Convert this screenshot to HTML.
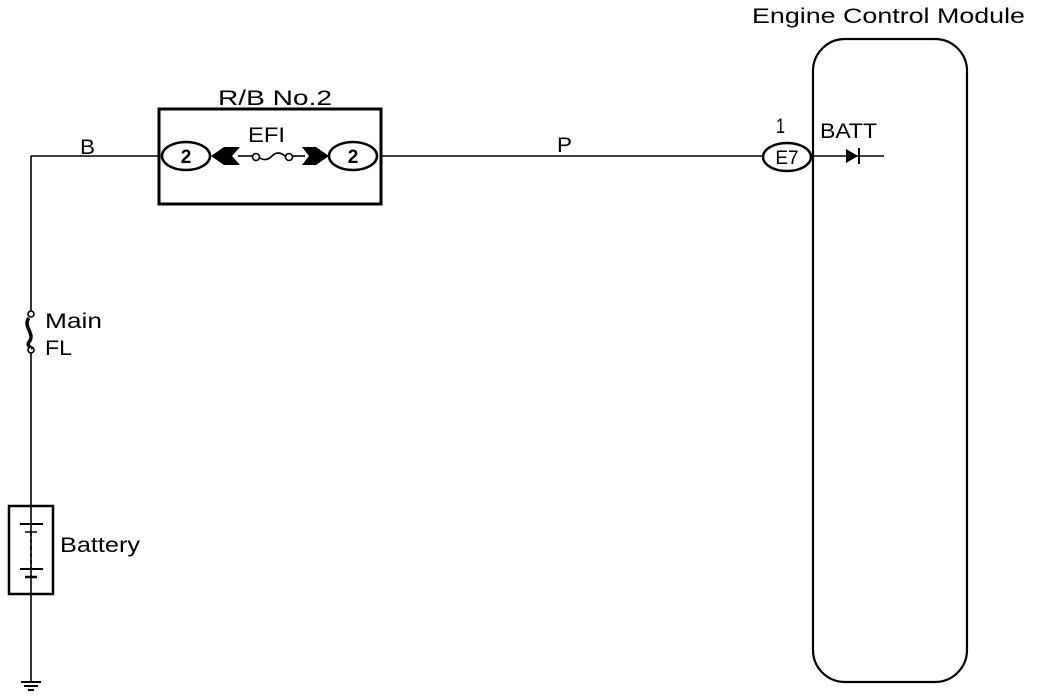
<!DOCTYPE html>
<html><head><meta charset="utf-8"><style>
html,body{margin:0;padding:0;background:#fff;}
svg{display:block;}
text{font-family:"Liberation Sans",Arial,sans-serif;fill:#000;}
</style></head><body>
<svg width="1040" height="698" viewBox="0 0 1040 698" xmlns="http://www.w3.org/2000/svg">
<g stroke="#000" fill="none" stroke-width="1.6">
  <line x1="31" y1="156" x2="31" y2="312"/>
  <line x1="31" y1="352" x2="31" y2="682"/>
  <line x1="31" y1="156" x2="160" y2="156"/>
  <rect x="159" y="109" width="222" height="95" stroke-width="3"/>
  <ellipse cx="186" cy="156" rx="24" ry="14" stroke-width="2.5"/>
  <ellipse cx="353" cy="156" rx="24" ry="14" stroke-width="2.5"/>
  <line x1="238" y1="156" x2="252" y2="156"/>
  <line x1="293" y1="156" x2="305" y2="156"/>
  <circle cx="256" cy="157" r="3.5" fill="#fff"/>
  <circle cx="289" cy="157" r="3.5" fill="#fff"/>
  <path d="M260 158 Q266 162 272 156 Q278 150 285 156"/>
  <line x1="381" y1="156" x2="763" y2="156"/>
  <ellipse cx="787" cy="157" rx="24" ry="14" stroke-width="2.5"/>
  <rect x="813" y="39" width="154" height="643" rx="32" ry="32" stroke-width="2.2"/>
  <line x1="813" y1="156" x2="884" y2="156"/>
  <line x1="859" y1="148" x2="859" y2="164" stroke-width="2"/>
  <circle cx="31" cy="314" r="3" fill="#fff"/>
  <circle cx="31" cy="350" r="3" fill="#fff"/>
  <rect x="9" y="506" width="44" height="88" stroke-width="2.5"/>
  <line x1="20" y1="524" x2="43" y2="524" stroke-width="2"/>
  <line x1="25" y1="532" x2="37" y2="532" stroke-width="1.5"/>
  <line x1="31" y1="532" x2="31" y2="568" stroke-dasharray="4,3"/>
  <line x1="20" y1="569" x2="43" y2="569" stroke-width="2"/>
  <line x1="25" y1="577" x2="37" y2="577" stroke-width="2.5"/>
  <line x1="21" y1="682" x2="41" y2="682" stroke-width="2"/>
  <line x1="24" y1="686" x2="38" y2="686" stroke-width="2"/>
  <line x1="28" y1="690" x2="34" y2="690" stroke-width="2"/>
</g>
<path d="M211 156 L224 147 L240 147 L232 156 L240 165 L224 165 Z" fill="#000"/>
<path d="M329 156 L316 147 L302 147 L309 156 L302 165 L316 165 Z" fill="#000"/>
<path d="M846 149 L846 163 L858 156 Z" fill="#000"/>
<path d="M29 318 C22 326 36 334 29 342 C26 346 32 348 31 348" stroke="#000" stroke-width="3.5" fill="none"/>
<g font-size="21" lengthAdjust="spacingAndGlyphs">
  <text x="752" y="23" textLength="273" lengthAdjust="spacingAndGlyphs">Engine Control Module</text>
  <text x="218" y="105" textLength="114" lengthAdjust="spacingAndGlyphs">R/B No.2</text>
  <text x="248" y="142" textLength="37" lengthAdjust="spacingAndGlyphs">EFI</text>
  <text x="80" y="154" textLength="15" lengthAdjust="spacingAndGlyphs">B</text>
  <text x="557" y="152" textLength="15" lengthAdjust="spacingAndGlyphs">P</text>
  <text x="776" y="133" textLength="9" lengthAdjust="spacingAndGlyphs">1</text>
  <text x="820" y="138" textLength="57" lengthAdjust="spacingAndGlyphs">BATT</text>
  <text x="45" y="328" textLength="57" lengthAdjust="spacingAndGlyphs">Main</text>
  <text x="45" y="355" textLength="27" lengthAdjust="spacingAndGlyphs">FL</text>
  <text x="60" y="552" textLength="80" lengthAdjust="spacingAndGlyphs">Battery</text>
  <text x="186" y="163" text-anchor="middle" font-size="19" font-weight="bold">2</text>
  <text x="353" y="163" text-anchor="middle" font-size="19" font-weight="bold">2</text>
  <text x="787" y="164" text-anchor="middle" font-size="19">E7</text>
</g>
</svg>
</body></html>
